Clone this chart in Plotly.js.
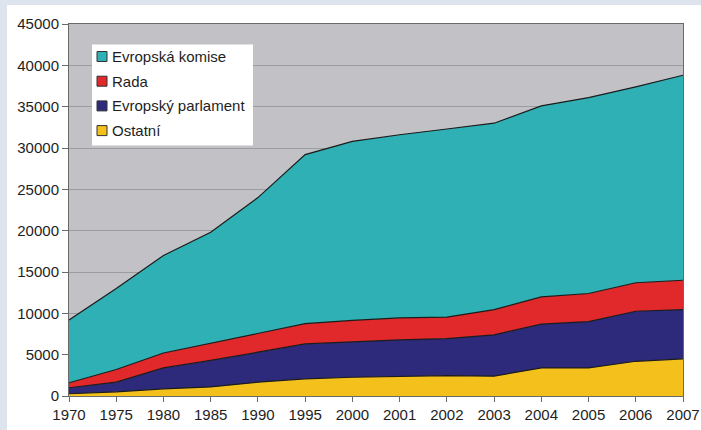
<!DOCTYPE html>
<html>
<head>
<meta charset="utf-8">
<script src="https://cdn.plot.ly/plotly-3.0.1.min.js"></script>
<style>
  html, body { margin: 0; padding: 0; background: #dde4ee; width: 701px; height: 430px; overflow: hidden; }
  #chart { position: absolute; left: 7px; top: 5px; width: 694px; height: 425px; }
</style>
</head>
<body>
<div id="chart"></div>
<script>
const years = ['1970','1975','1980','1985','1990','1995','2000','2001','2002','2003','2004','2005','2006','2007'];
const ostatni   = [270, 500, 870, 1100, 1670, 2080, 2270, 2350, 2470, 2400, 3400, 3400, 4200, 4500];
const parlament = [730, 1170, 2530, 3200, 3630, 4220, 4280, 4450, 4480, 5000, 5300, 5600, 6050, 5950];
const rada      = [600, 1530, 1800, 2100, 2300, 2450, 2600, 2650, 2600, 3050, 3300, 3400, 3450, 3550];
const komise    = [7600, 9800, 11800, 13400, 16400, 20450, 21650, 22150, 22750, 22550, 23100, 23700, 23700, 24800];
const seriesNames = ['Ostatní', 'Evropský parlament', 'Rada', 'Evropská komise'];
const seriesColors = ['#f4c01c', '#2d2a7c', '#e1282a', '#2fb0b4'];
const yTicks = [0, 5000, 10000, 15000, 20000, 25000, 30000, 35000, 40000, 45000];

const idx = years.map((_, i) => i);
const allSeries = [ostatni, parlament, rada, komise];

const traces = allSeries.map((vals, k) => ({
  type: 'scatter',
  mode: 'lines',
  x: idx,
  y: vals,
  name: seriesNames[k],
  stackgroup: 'one',
  fillcolor: seriesColors[k],
  line: { color: '#1c1c1c', width: 1.2 },
  showlegend: false,
  hoverinfo: 'skip'
}));

// Manual legend (top-to-bottom: reverse of stacking order)
const shapes = [];
const annotations = [];
shapes.push({
  type: 'rect', xref: 'paper', yref: 'paper', xsizemode: 'pixel', ysizemode: 'pixel',
  xanchor: 0, yanchor: 1, x0: 23, x1: 184, y0: -20.5, y1: -121.5,
  fillcolor: '#ffffff', line: { width: 0 }, layer: 'above'
});
const legendOrder = [3, 2, 1, 0];
legendOrder.forEach((k, row) => {
  const cy = -32.5 - row * 24.7;
  shapes.push({
    type: 'rect', xref: 'paper', yref: 'paper', xsizemode: 'pixel', ysizemode: 'pixel',
    xanchor: 0, yanchor: 1, x0: 28, x1: 38, y0: cy - 5, y1: cy + 5,
    fillcolor: seriesColors[k], line: { color: '#333333', width: 1 }, layer: 'above'
  });
  annotations.push({
    xref: 'paper', yref: 'paper', x: 0, y: 1, xshift: 41, yshift: cy,
    xanchor: 'left', yanchor: 'middle', showarrow: false,
    text: seriesNames[k], font: { family: 'Liberation Sans, Arial, sans-serif', size: 15, color: '#1e1e1e' }
  });
});

const layout = {
  width: 694, height: 425,
  margin: { l: 62, r: 18, t: 18.5, b: 33.5 },
  paper_bgcolor: '#ffffff',
  plot_bgcolor: '#c2c2c6',
  font: { family: 'Liberation Sans, Arial, sans-serif', size: 15, color: '#1e1e1e' },
  showlegend: false,
  xaxis: {
    range: [0, 13],
    tickmode: 'array', tickvals: idx, ticktext: years,
    ticks: 'outside', ticklen: 5, tickcolor: '#6a6a6a',
    showgrid: false, zeroline: false,
    showline: true, linecolor: '#6a6a6a', linewidth: 1, mirror: true,
    fixedrange: true
  },
  yaxis: {
    range: [0, 45000],
    tickmode: 'array', tickvals: yTicks, ticktext: yTicks.map(String),
    ticks: 'outside', ticklen: 6, tickcolor: '#6a6a6a',
    showgrid: true, gridcolor: '#9c9ca0', gridwidth: 1,
    zeroline: false,
    showline: true, linecolor: '#6a6a6a', linewidth: 1, mirror: true,
    fixedrange: true
  },
  shapes: shapes,
  annotations: annotations
};

Plotly.newPlot('chart', traces, layout, { displayModeBar: false, staticPlot: true });
</script>
</body>
</html>
